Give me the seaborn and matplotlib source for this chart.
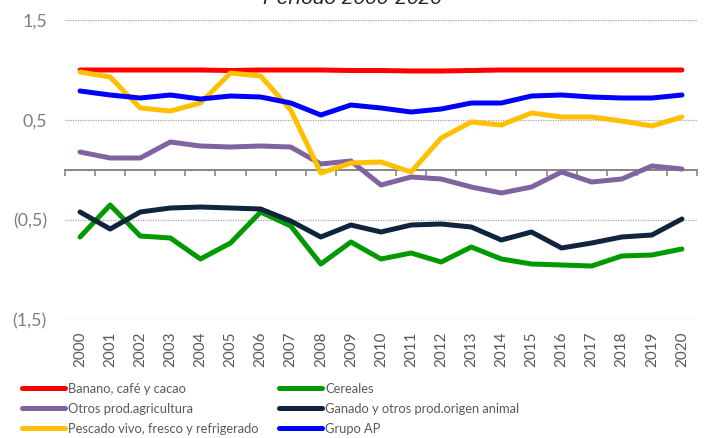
import matplotlib
matplotlib.use("Agg")
import matplotlib.pyplot as plt
import seaborn as sns
import pandas as pd

# Datos (índice por grupo de productos, 2000-2020)
years = list(range(2000, 2021))
banano = [1.00, 1.00, 1.00, 1.00, 1.00, 0.995, 1.00, 1.00, 1.00, 0.995, 0.995,
          0.99, 0.99, 0.995, 1.00, 1.00, 1.00, 1.00, 1.00, 1.00, 1.00]
cereales = [-0.67, -0.35, -0.66, -0.68, -0.89, -0.73, -0.42, -0.56, -0.94, -0.72, -0.89,
            -0.83, -0.92, -0.77, -0.89, -0.94, -0.95, -0.96, -0.86, -0.85, -0.79]
otros = [0.18, 0.12, 0.12, 0.28, 0.24, 0.23, 0.24, 0.23, 0.06, 0.09, -0.15,
         -0.07, -0.09, -0.17, -0.23, -0.17, -0.02, -0.12, -0.09, 0.04, 0.01]
ganado = [-0.42, -0.59, -0.42, -0.38, -0.37, -0.38, -0.39, -0.51, -0.67, -0.55, -0.62,
          -0.55, -0.54, -0.57, -0.70, -0.62, -0.78, -0.73, -0.67, -0.65, -0.49]
pescado = [0.98, 0.93, 0.62, 0.59, 0.67, 0.97, 0.94, 0.60, -0.03, 0.07, 0.08,
           -0.02, 0.32, 0.48, 0.45, 0.57, 0.53, 0.53, 0.49, 0.44, 0.53]
grupo_ap = [0.79, 0.75, 0.72, 0.75, 0.71, 0.74, 0.73, 0.67, 0.55, 0.65, 0.62,
            0.58, 0.61, 0.67, 0.67, 0.74, 0.75, 0.73, 0.72, 0.72, 0.75]

series_names = ["Banano, café y cacao", "Cereales", "Otros prod.agricultura",
                "Ganado y otros prod.origen animal", "Pescado vivo, fresco y refrigerado",
                "Grupo AP"]
series_colors = ["#ff0000", "#009a00", "#8064a2", "#10243e", "#ffc000", "#0000ff"]
y_ticks = [-1.5, -0.5, 0.5, 1.5]
y_labels = ["(1,5)", "(0,5)", "0,5", "1,5"]

df = pd.DataFrame({"year": years})
for name, vals in zip(series_names, [banano, cereales, otros, ganado, pescado, grupo_ap]):
    df[name] = vals
long = df.melt(id_vars="year", var_name="serie", value_name="valor")

sns.set_style("white")
plt.rcParams["font.family"] = ["Lato", "DejaVu Sans"]

fig = plt.figure(figsize=(7.08, 4.38), dpi=100)
ax = fig.add_axes([65 / 708, 1 - 320 / 438, 632 / 708, 300 / 438])

sns.lineplot(data=long, x="year", y="valor", hue="serie", hue_order=series_names,
             palette=dict(zip(series_names, series_colors)), linewidth=3.6,
             solid_capstyle="round", errorbar=None, legend=False, ax=ax)

ax.set_xlim(1999.5, 2020.5)
ax.set_ylim(-1.5, 1.5)
ax.set_xlabel("")
ax.set_ylabel("")

# rejilla punteada
for yv in y_ticks:
    ax.axhline(yv, color="#a6a6a6", linewidth=0.9, linestyle=(0, (1, 1)), zorder=0)

for s in ["top", "right", "left"]:
    ax.spines[s].set_visible(False)
ax.spines["bottom"].set_position(("data", 0))
ax.spines["bottom"].set_color("#868686")
ax.spines["bottom"].set_linewidth(1.4)
ax.spines["bottom"].set_zorder(1)

ax.set_xticks(years)
ax.set_xticklabels([str(y) for y in years], rotation=90, va="top")
ax.set_xticks([y - 0.5 for y in years] + [2020.5], minor=True)
ax.tick_params(axis="x", which="major", bottom=True, length=0, pad=116, labelsize=11,
               labelcolor="#595959")
ax.tick_params(axis="x", which="minor", bottom=True, length=4, width=1.2, color="#868686",
               direction="out")

ax.set_yticks(y_ticks)
ax.set_yticklabels(y_labels)
ax.tick_params(axis="y", length=0, pad=13, labelsize=12.8, labelcolor="#7f7f7f")

# título recortado en la parte superior, como en el original
fig.text(352 / 708, 1 - 4 / 438, "Período 2000-2020", ha="center", va="baseline",
         fontsize=15, style="italic", family=["Liberation Sans", "DejaVu Sans"])

lines = ax.get_lines()[:6]
order = [0, 2, 4, 1, 3, 5]
leg = fig.legend([lines[i] for i in order], [series_names[i] for i in order],
                 ncol=2, loc="upper left", bbox_to_anchor=(22 / 708, 1 - 383 / 438),
                 frameon=False, fontsize=9.3, handlelength=3.3, handletextpad=0.25,
                 columnspacing=1.6, labelspacing=0.62, borderaxespad=0, borderpad=0)
for t in leg.get_texts():
    t.set_color("#595959")

fig.savefig("out.png", dpi=100)
